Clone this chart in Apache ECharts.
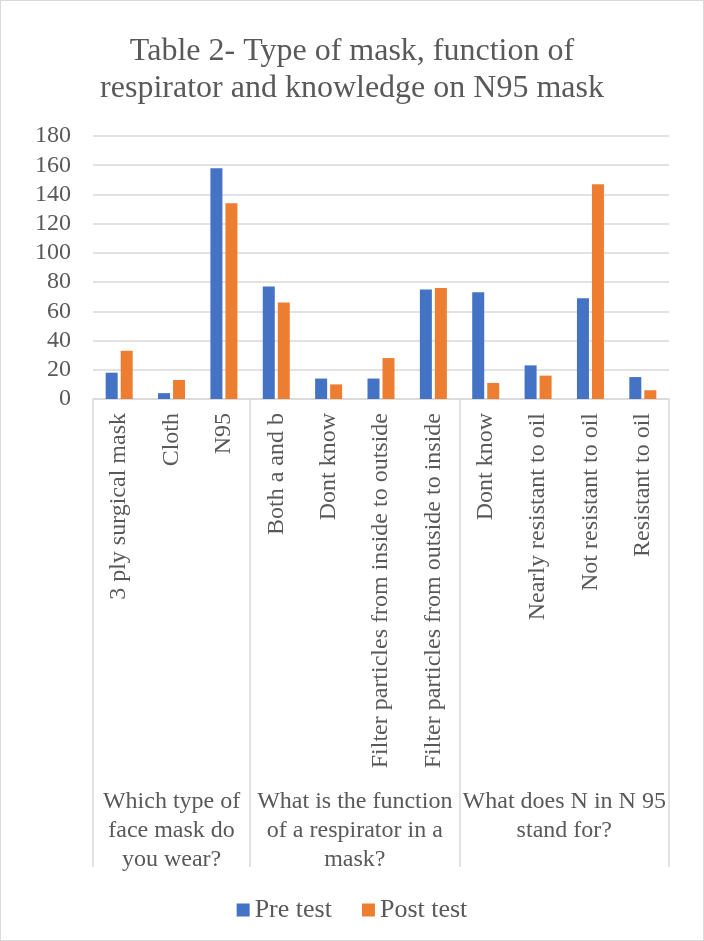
<!DOCTYPE html>
<html>
<head>
<meta charset="utf-8">
<script src="https://cdn.jsdelivr.net/npm/echarts@6/dist/echarts.min.js"></script>
<style>
  html, body { margin: 0; padding: 0; background: #fff; }
  #main { width: 704px; height: 941px; box-sizing: border-box; border: 1px solid #d9d9d9; }
</style>
</head>
<body>
<div id="main"></div>
<script>
// answer options (first level of the axis)
const answers = [
  '3 ply surgical mask', 'Cloth', 'N95',
  'Both a and b', 'Dont know', 'Filter particles from inside to outside', 'Filter particles from outside to inside',
  'Dont know', 'Nearly resistant to oil', 'Not resistant to oil', 'Resistant to oil'
]
// questions (second level), each covering its answers
const questions = [
  'Which type of\nface mask do\nyou wear?',
  'What is the function\nof a respirator in a\nmask?',
  'What does N in N 95\nstand for?'
]
const questionSizes = [3, 4, 4]

const preTest = [18, 4, 158, 77, 14, 14, 75, 73, 23, 69, 15]
const postTest = [33, 13, 134, 66, 10, 28, 76, 11, 16, 147, 6]

const yTicks = { min: 0, max: 180, interval: 20 }

const font = 'Liberation Serif'
const txt = '#595959'
const grid = '#d9d9d9'

let myChart = echarts.init(document.getElementById('main'))

// second level: points at every half answer, so group edges and group
// centres both land on a point (boundaryGap false)
const groupPoints = new Array(answers.length * 2 + 1).fill('')
const groupEdges = [0]
let pos = 0
questions.forEach((q, i) => {
  groupPoints[pos + questionSizes[i]] = q
  pos += questionSizes[i] * 2
  groupEdges.push(pos)
})

myChart.setOption({
  animation: false,
  textStyle: { fontFamily: font },
  title: {
    text: 'Table 2- Type of mask, function of\nrespirator and knowledge on N95 mask',
    left: 'center',
    top: 27,
    textStyle: { fontFamily: font, fontSize: 32, fontWeight: 'normal', color: txt, lineHeight: 37 }
  },
  legend: {
    top: 891,
    left: 'center',
    icon: 'rect',
    itemWidth: 13,
    itemHeight: 13,
    itemGap: 30,
    textStyle: { fontFamily: font, fontSize: 26, color: txt }
  },
  grid: { left: 92, right: 34, top: 135, bottom: 541 },
  xAxis: [
    {
      type: 'category',
      data: answers,
      axisLine: { lineStyle: { color: grid, width: 1.5 } },
      axisTick: { show: false },
      axisLabel: { rotate: 90, interval: 0, margin: 14, fontFamily: font, fontSize: 24, color: txt }
    },
    {
      type: 'category',
      position: 'bottom',
      boundaryGap: false,
      data: groupPoints,
      axisLine: { show: false },
      axisTick: {
        show: true,
        length: 468,
        interval: (i) => groupEdges.indexOf(i) >= 0,
        lineStyle: { color: grid, width: 1.5 }
      },
      axisLabel: {
        interval: 0,
        margin: 388,
        verticalAlign: 'top',
        align: 'center',
        lineHeight: 29,
        fontFamily: font,
        fontSize: 24,
        color: txt
      },
      splitLine: { show: false }
    }
  ],
  yAxis: {
    type: 'value',
    min: yTicks.min,
    max: yTicks.max,
    interval: yTicks.interval,
    axisLine: { show: false },
    axisTick: { show: false },
    axisLabel: { margin: 22, fontFamily: font, fontSize: 24, color: txt },
    splitLine: { lineStyle: { color: grid, width: 1.5 } }
  },
  series: [
    { name: 'Pre test', type: 'bar', data: preTest, barWidth: 12, barGap: '25%', itemStyle: { color: '#4472C4' } },
    { name: 'Post test', type: 'bar', data: postTest, barWidth: 12, barGap: '25%', itemStyle: { color: '#ED7D31' } }
  ]
})
</script>
</body>
</html>
